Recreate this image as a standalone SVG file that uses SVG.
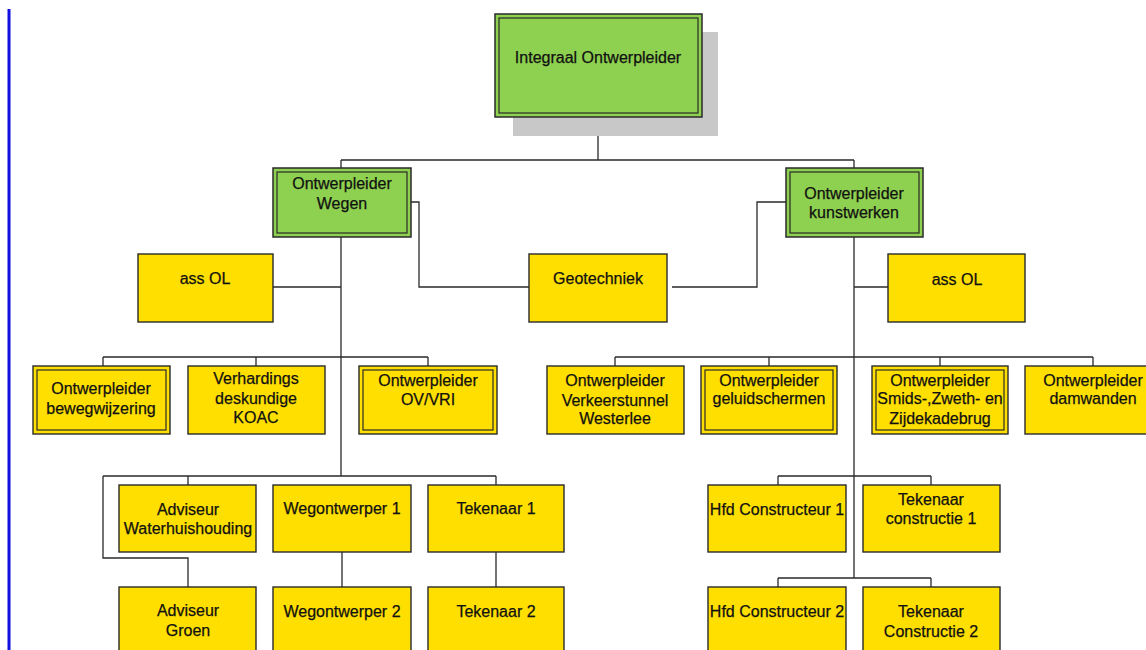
<svg xmlns="http://www.w3.org/2000/svg" width="1146" height="650" viewBox="0 0 1146 650">
<style>
.g{fill:#8ed04f;stroke:#2a2a2a;stroke-width:1.5}
.y{fill:#ffdf00;stroke:#2a2a2a;stroke-width:1.4}
.in{fill:none;stroke:#2a2a2a;stroke-width:1.2}
.c{fill:none;stroke:#2a2a2a;stroke-width:1.3}
text{font-family:"Liberation Sans",Arial,sans-serif;font-size:16px;fill:#111;stroke:#111;stroke-width:0.25;text-anchor:middle}
</style>
<rect width="1146" height="650" fill="#fff"/>
<line x1="9" y1="9" x2="9" y2="650" stroke="#1010e0" stroke-width="3"/>
<g id="connectors">
<path class="c" d="M598 117V160M341 160H854M341 160V168M854 160V168"/>
<path class="c" d="M411 202H419V287H529"/>
<path class="c" d="M672 287H757V202H786"/>
<path class="c" d="M341 237V476M273 287H341"/>
<path class="c" d="M103 357H428M103 357V366M256 357V366M428 357V366"/>
<path class="c" d="M103 476H496M188 476V485M496 476V485M103 476V558H188V587"/>
<path class="c" d="M342 552V587M496 552V587"/>
<path class="c" d="M854 237V578M854 287H888"/>
<path class="c" d="M615 357H1093M615 357V366M769 357V366M940 357V366M1093 357V366"/>
<path class="c" d="M778 476H931M778 476V485M931 476V485"/>
<path class="c" d="M778 578H931M778 578V587M931 578V587"/>
</g>
<g id="n-integraal">
<rect x="513" y="32" width="205" height="104" fill="#c8c8c8"/>
<rect class="g" x="495" y="14" width="207" height="103"/>
<rect class="in" x="499" y="18" width="199" height="95"/>
<text x="598" y="63">Integraal Ontwerpleider</text>
</g>
<g id="n-wegen">
<rect class="g" x="273" y="168" width="138" height="69"/>
<rect class="in" x="277" y="172" width="130" height="61"/>
<text x="342" y="189">Ontwerpleider</text>
<text x="342" y="209">Wegen</text>
</g>
<g id="n-kunstwerken">
<rect class="g" x="786" y="168" width="137" height="69"/>
<rect class="in" x="790" y="172" width="129" height="61"/>
<text x="854" y="199">Ontwerpleider</text>
<text x="854" y="218">kunstwerken</text>
</g>
<g id="n-assol-left">
<rect class="y" x="138" y="254" width="135" height="68"/>
<text x="205" y="284">ass OL</text>
</g>
<g id="n-geotechniek">
<rect class="y" x="529" y="254" width="138" height="68"/>
<text x="598" y="284">Geotechniek</text>
</g>
<g id="n-assol-right">
<rect class="y" x="888" y="254" width="137" height="68"/>
<text x="957" y="285">ass OL</text>
</g>
<g id="n-bewegwijzering">
<rect class="y" x="33" y="366" width="137" height="68"/>
<rect class="in" x="37" y="370" width="129" height="60"/>
<text x="101" y="394">Ontwerpleider</text>
<text x="101" y="414">bewegwijzering</text>
</g>
<g id="n-verhardings">
<rect class="y" x="188" y="366" width="137" height="68"/>
<text x="256" y="384">Verhardings</text>
<text x="256" y="404">deskundige</text>
<text x="256" y="423">KOAC</text>
</g>
<g id="n-ovvri">
<rect class="y" x="359" y="366" width="138" height="68"/>
<rect class="in" x="363" y="370" width="130" height="60"/>
<text x="428" y="386">Ontwerpleider</text>
<text x="428" y="405">OV/VRI</text>
</g>
<g id="n-verkeerstunnel">
<rect class="y" x="547" y="366" width="137" height="68"/>
<text x="615" y="386">Ontwerpleider</text>
<text x="615" y="406">Verkeerstunnel</text>
<text x="615" y="424">Westerlee</text>
</g>
<g id="n-geluidschermen">
<rect class="y" x="701" y="366" width="136" height="68"/>
<rect class="in" x="705" y="370" width="128" height="60"/>
<text x="769" y="386">Ontwerpleider</text>
<text x="769" y="404">geluidschermen</text>
</g>
<g id="n-smids">
<rect class="y" x="872" y="366" width="136" height="68"/>
<rect class="in" x="876" y="370" width="128" height="60"/>
<text x="940" y="386">Ontwerpleider</text>
<text x="940" y="404">Smids-,Zweth- en</text>
<text x="940" y="424">Zijdekadebrug</text>
</g>
<g id="n-damwanden">
<rect class="y" x="1025" y="366" width="137" height="68"/>
<text x="1093" y="386">Ontwerpleider</text>
<text x="1093" y="404">damwanden</text>
</g>
<g id="n-waterhuishouding">
<rect class="y" x="119" y="485" width="137" height="67"/>
<text x="188" y="515">Adviseur</text>
<text x="188" y="534">Waterhuishouding</text>
</g>
<g id="n-wegontwerper1">
<rect class="y" x="273" y="485" width="138" height="67"/>
<text x="342" y="514">Wegontwerper 1</text>
</g>
<g id="n-tekenaar1">
<rect class="y" x="428" y="485" width="136" height="67"/>
<text x="496" y="514">Tekenaar 1</text>
</g>
<g id="n-groen">
<rect class="y" x="119" y="587" width="137" height="70"/>
<text x="188" y="616">Adviseur</text>
<text x="188" y="636">Groen</text>
</g>
<g id="n-wegontwerper2">
<rect class="y" x="273" y="587" width="138" height="70"/>
<text x="342" y="617">Wegontwerper 2</text>
</g>
<g id="n-tekenaar2">
<rect class="y" x="428" y="587" width="136" height="70"/>
<text x="496" y="617">Tekenaar 2</text>
</g>
<g id="n-hfd1">
<rect class="y" x="708" y="485" width="138" height="67"/>
<text x="777" y="515">Hfd Constructeur 1</text>
</g>
<g id="n-tekconstr1">
<rect class="y" x="863" y="485" width="137" height="67"/>
<text x="931" y="505">Tekenaar</text>
<text x="931" y="524">constructie 1</text>
</g>
<g id="n-hfd2">
<rect class="y" x="708" y="587" width="138" height="70"/>
<text x="777" y="617">Hfd Constructeur 2</text>
</g>
<g id="n-tekconstr2">
<rect class="y" x="863" y="587" width="137" height="70"/>
<text x="931" y="617">Tekenaar</text>
<text x="931" y="637">Constructie 2</text>
</g>
</svg>
